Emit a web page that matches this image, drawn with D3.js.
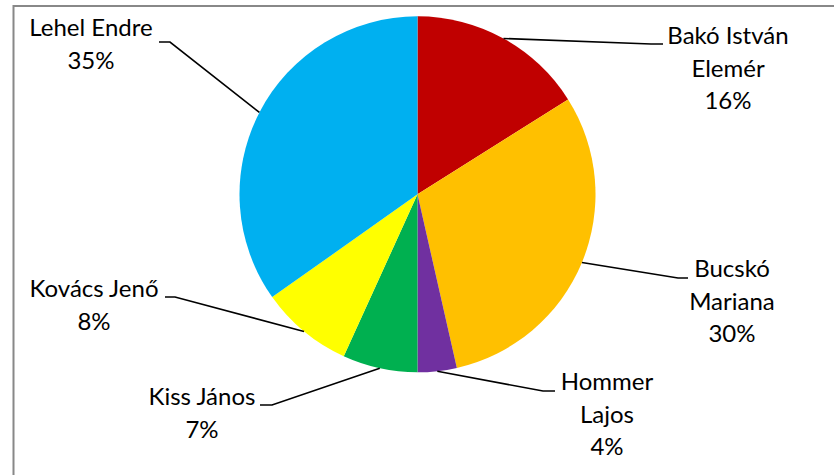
<!DOCTYPE html>
<html lang="hu">
<head>
  <meta charset="UTF-8">
  <title>Pie chart</title>
  <script src="https://d3js.org/d3.v7.min.js"></script>
  <style>
    body { margin: 0; background: #fff; }
    .lbl text { font: 24px Lato, "Open Sans", sans-serif; fill: #000; }
    .leader { fill: none; stroke: #000; stroke-width: 1.6; }
  </style>
</head>
<body>
  <svg id="chart" width="834" height="475"></svg>
  <script>
    // data, clockwise from 12 o'clock
    const names = ["Bakó István Elemér", "Bucskó Mariana", "Hommer Lajos", "Kiss János", "Kovács Jenő", "Lehel Endre"];
    const values = [16.05, 30.4, 3.55, 6.8, 8.4, 34.8];
    const colors = ["#C00000", "#FFC000", "#7030A0", "#00B050", "#FFFF00", "#00B0F0"];
    // how each label breaks into lines
    const labelLines = [["Bakó István", "Elemér"], ["Bucskó", "Mariana"], ["Hommer", "Lajos"], ["Kiss János"], ["Kovács Jenő"], ["Lehel Endre"]];

    // label layout: text centre x, first baseline y, elbow x, stub end x, stub y
    const labelLayout = [
      { tx: 728, ty: 44, ex: 651, sx: 663, sy: 44 },
      { tx: 732, ty: 277, ex: 678, sx: 688, sy: 278 },
      { tx: 607, ty: 390, ex: 543, sx: 555, sy: 391 },
      { tx: 202, ty: 405, ex: 272, sx: 260, sy: 405 },
      { tx: 94, ty: 297, ex: 175, sx: 165, sy: 297 },
      { tx: 91, ty: 36, ex: 170, sx: 159, sy: 42 }
    ];

    const width = 834, height = 475;
    const cx = 417.5, cy = 194.3, radius = 178;
    const lineH = 32.5;

    const svg = d3.select("#chart");

    // chart area frame (right and bottom edges fall outside the image)
    svg.append("rect")
      .attr("x", 13.5).attr("y", 6)
      .attr("width", width).attr("height", height)
      .attr("fill", "#fff")
      .attr("stroke", "#888")
      .attr("stroke-width", 2);

    const data = names.map((n, i) => ({ name: n, value: values[i], color: colors[i], lines: labelLines[i], pos: labelLayout[i] }));
    const total = d3.sum(values);

    const pie = d3.pie().sort(null).value(d => d.value);
    const arcs = pie(data);
    const arc = d3.arc().innerRadius(0).outerRadius(radius);

    const g = svg.append("g").attr("transform", `translate(${cx},${cy})`);

    g.selectAll("path.slice")
      .data(arcs)
      .enter().append("path")
      .attr("class", "slice")
      .attr("d", arc)
      .attr("fill", d => d.data.color);

    // leader lines from the outer edge at the slice's mid angle
    svg.append("g").selectAll("path")
      .data(arcs)
      .enter().append("path")
      .attr("class", "leader")
      .attr("d", d => {
        const a = (d.startAngle + d.endAngle) / 2;
        const px = cx + radius * Math.sin(a);
        const py = cy - radius * Math.cos(a);
        const p = d.data.pos;
        return d3.line()([[px, py], [p.ex, p.sy], [p.sx, p.sy]]);
      });

    const lbl = svg.append("g").attr("class", "lbl")
      .selectAll("text")
      .data(arcs)
      .enter().append("text")
      .attr("text-anchor", "middle")
      .attr("x", d => d.data.pos.tx)
      .attr("y", d => d.data.pos.ty);

    lbl.each(function(d) {
      const t = d3.select(this);
      const lines = d.data.lines.concat([Math.round(d.data.value / total * 100) + "%"]);
      lines.forEach((s, i) => {
        t.append("tspan")
          .attr("x", d.data.pos.tx)
          .attr("dy", i === 0 ? 0 : lineH)
          .text(s);
      });
    });
  </script>
</body>
</html>
